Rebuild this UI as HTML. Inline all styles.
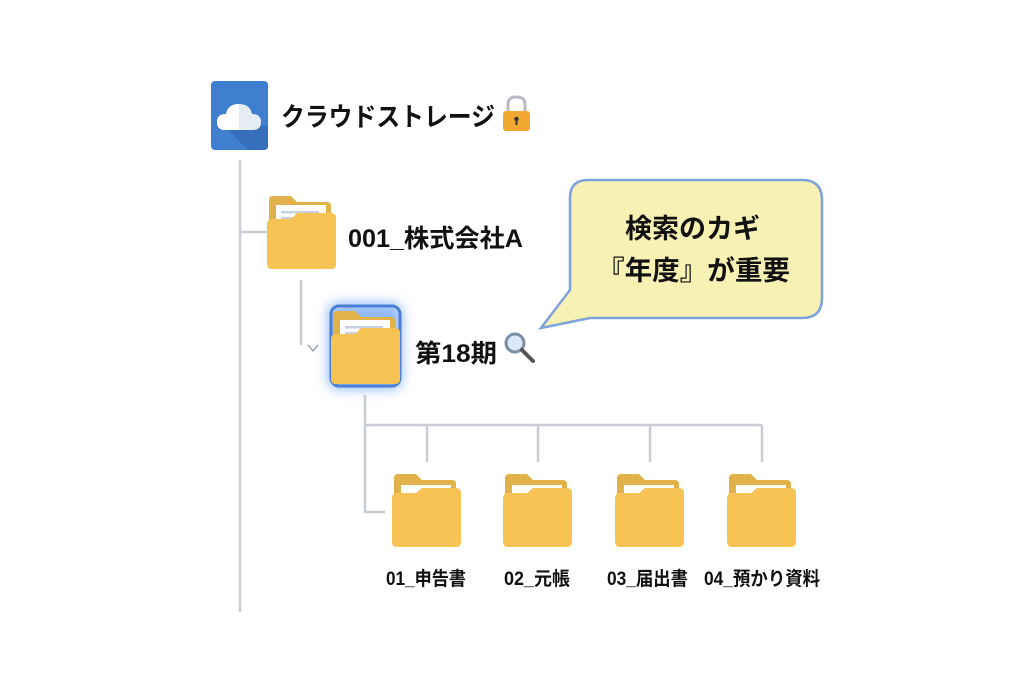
<!DOCTYPE html>
<html><head><meta charset="utf-8"><style>
body{margin:0;background:#fff}
svg{display:block}
text{font-family:"Liberation Sans","Noto Sans CJK JP",sans-serif;font-weight:bold;fill:#111}
</style></head><body>
<svg width="1024" height="687" viewBox="0 0 1024 687" xmlns="http://www.w3.org/2000/svg">
<defs>
<g id="fd">
<path d="M2 6 Q2 2 6 2 H24 L30 8 H60 Q64 8 64 12 V40 H2 Z" fill="#e2b24a"/>
<rect x="9" y="13" width="50" height="30" fill="#fff"/>
<path d="M0 26 Q0 21 5 21 H24 L30 16 H64 Q69 16 69 21 V70 Q69 75 64 75 H5 Q0 75 0 70 Z" fill="#f7c355"/>
</g>
<g id="fdp">
<path d="M2 6 Q2 2 6 2 H24 L30 8 H60 Q64 8 64 12 V40 H2 Z" fill="#e2b24a"/>
<rect x="9" y="11" width="50" height="30" fill="#fff"/>
<rect x="14" y="17" width="38" height="2.5" fill="#c8d0e0"/>
<rect x="14" y="23" width="30" height="2.5" fill="#c8d0e0"/>
<path d="M0 30 Q0 25 5 25 H24 L30 19 H64 Q69 19 69 24 V70 Q69 75 64 75 H5 Q0 75 0 70 Z" fill="#f7c355"/>
</g>
<filter id="gl" x="-40%" y="-40%" width="180%" height="180%"><feGaussianBlur stdDeviation="6"/></filter>
</defs>
<g stroke="#c9ced6" stroke-width="2.5" fill="none">
<path d="M240 160 V612"/>
<path d="M240 232 H268"/>
<path d="M301 280 V345"/>
<path d="M365 395 V512 H385"/>
<path d="M365 425 H762"/>
<path d="M427 425 V462 M538 425 V462 M650 425 V462 M762 425 V462"/>
</g>
<path d="M308 345 L313 351 L318 345" stroke="#9aa3ae" stroke-width="1.5" fill="none"/>
<rect x="211" y="81" width="57" height="69" rx="4" fill="#3f7fd0"/>
<path d="M228 130 L248 150 H264 Q268 150 268 146 V125 Z" fill="#3369b3" opacity="0.7"/>
<path d="M225 130 Q217 130 217 122 Q217 114 226 114 Q228 104 239 104 Q250 104 252 114 Q261 114 261 122 Q261 130 253 130 Z" fill="#e6ecf4"/>
<path d="M225 130 Q217 130 217 122 Q217 114 226 114 Q228 104 239 104 V130 Z" fill="#fff"/>
<text x="281" y="126" font-size="26" textLength="214" lengthAdjust="spacingAndGlyphs">クラウドストレージ</text>
<path d="M508 112 V104 Q508 97 516.5 97 Q525 97 525 104 V112" stroke="#b8bcc2" stroke-width="3" fill="none"/>
<rect x="503" y="111" width="27" height="20" rx="3" fill="#f0a830"/>
<circle cx="516.5" cy="119" r="2.2" fill="#333"/><rect x="515.5" y="120" width="2" height="5" fill="#333"/>
<use href="#fdp" x="267" y="194"/>
<text x="348" y="247" font-size="25" textLength="175" lengthAdjust="spacingAndGlyphs">001_株式会社A</text>
<rect x="328" y="303" width="74" height="86" rx="10" fill="#8fb8f5" filter="url(#gl)"/>
<rect x="331" y="306" width="69" height="80" rx="8" fill="none" stroke="#4a7fd4" stroke-width="3"/>
<use href="#fdp" x="331" y="309"/>
<text x="415" y="362" font-size="25" textLength="82" lengthAdjust="spacingAndGlyphs">第18期</text>
<circle cx="515" cy="343" r="9" fill="#dbe8f7" stroke="#7d8fa5" stroke-width="3"/>
<path d="M522 350 L533 361" stroke="#555" stroke-width="4" stroke-linecap="round"/>
<path d="M588 180 H802 Q822 180 822 200 V298 Q822 318 802 318 H590 L541 328 L570 290 V198 Q570 180 588 180 Z" fill="#f8f1b4" stroke="#7ea3db" stroke-width="2.5"/>
<text x="625" y="238" font-size="27" textLength="135" lengthAdjust="spacingAndGlyphs">検索のカギ</text>
<text x="597" y="280" font-size="27" textLength="193" lengthAdjust="spacingAndGlyphs">『年度』が重要</text>
<use href="#fd" x="392" y="472"/>
<use href="#fd" x="503" y="472"/>
<use href="#fd" x="615" y="472"/>
<use href="#fd" x="727" y="472"/>
<text x="386" y="585" font-size="19" textLength="80" lengthAdjust="spacingAndGlyphs">01_申告書</text>
<text x="504" y="585" font-size="19" textLength="66" lengthAdjust="spacingAndGlyphs">02_元帳</text>
<text x="607" y="585" font-size="19" textLength="81" lengthAdjust="spacingAndGlyphs">03_届出書</text>
<text x="704" y="585" font-size="19" textLength="116" lengthAdjust="spacingAndGlyphs">04_預かり資料</text>
</svg>
</body></html>
